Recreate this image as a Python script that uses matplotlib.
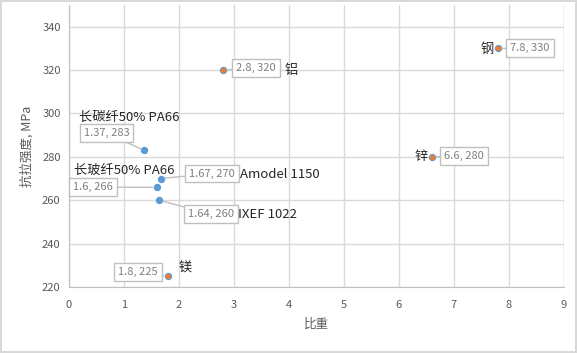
import matplotlib
matplotlib.use("Agg")
import matplotlib.pyplot as plt

plt.rcParams['font.family'] = ['Noto Sans CJK SC', 'DejaVu Sans']

# Data
names = ["长碳纤50% PA66", "Amodel 1150", "长玻纤50% PA66", "IXEF 1022", "镁", "铝", "钢", "锌"]
density = [1.37, 1.67, 1.6, 1.64, 1.8, 2.8, 7.8, 6.6]
strength = [283, 270, 266, 260, 225, 320, 330, 280]
is_metal = [False, False, False, False, True, True, True, True]
x_ticks = [0, 1, 2, 3, 4, 5, 6, 7, 8, 9]
y_ticks = [220, 240, 260, 280, 300, 320, 340]

# Label layout (pixel offsets from point): value box, name label
box_off = [(-38, 17), (51, 5), (-64, 0), (52, -14), (-30, 4), (33, 2), (32, 0), (32, 1)]
name_off = [(-15, 33), (79, 4), (-33, 17), (79, -14), (17, 8), (68, 0), (-11, -1), (-11, 0)]
name_ha = ["center", "left", "center", "left", "center", "center", "center", "center"]

BLUE = "#5B9BD5"
ORANGE = "#ED7D31"
GRAY = "#595959"

W, H = 577, 353
fig = plt.figure(figsize=(W / 100, H / 100), dpi=100, edgecolor="#d9d9d9", linewidth=1.5)
ax = fig.add_axes([69 / W, 1 - 287 / H, (564 - 69) / W, (287 - 5) / H])

ax.set_xlim(0, 9)
ax.set_ylim(220, 350)
ax.set_xticks(x_ticks)
ax.set_yticks(y_ticks)
ax.grid(True, color="#d9d9d9", lw=1)
ax.set_axisbelow(True)
for s in ["top", "right"]:
    ax.spines[s].set_visible(False)
for s in ["left", "bottom"]:
    ax.spines[s].set_color("#bfbfbf")
ax.tick_params(length=0, labelsize=8, colors=GRAY, pad=6)
ax.tick_params(axis="x", pad=9)
ax.set_xlabel("比重", fontsize=9, color=GRAY, labelpad=6)
ax.set_ylabel("抗拉强度, MPa", fontsize=9, color=GRAY, labelpad=6)
# vertical gridline at x=9 (right edge)
ax.axvline(9, color="#d9d9d9", lw=1, zorder=0)

# markers
ax.scatter(density, strength, s=28, color=BLUE, zorder=3, linewidths=0)
mx = [d for d, m in zip(density, is_metal) if m]
my = [v for v, m in zip(strength, is_metal) if m]
ax.scatter(mx, my, s=14, color=ORANGE, zorder=4, linewidths=0)

for i in range(len(names)):
    label = f"{density[i]:g}, {strength[i]}"
    ax.annotate(label, (density[i], strength[i]), xytext=box_off[i], textcoords="offset pixels",
                ha="center", va="center", fontsize=8, color="#7f7f7f", zorder=5,
                bbox=dict(boxstyle="square,pad=0.35", fc="white", ec="#bfbfbf", lw=1),
                arrowprops=dict(arrowstyle="-", color="#bfbfbf", lw=1, shrinkA=0, shrinkB=3))
    ax.annotate(names[i], (density[i], strength[i]), xytext=name_off[i], textcoords="offset pixels",
                ha=name_ha[i], va="center", fontsize=9.5, color="#262626", zorder=6)

fig.savefig("out.png", dpi=100)
